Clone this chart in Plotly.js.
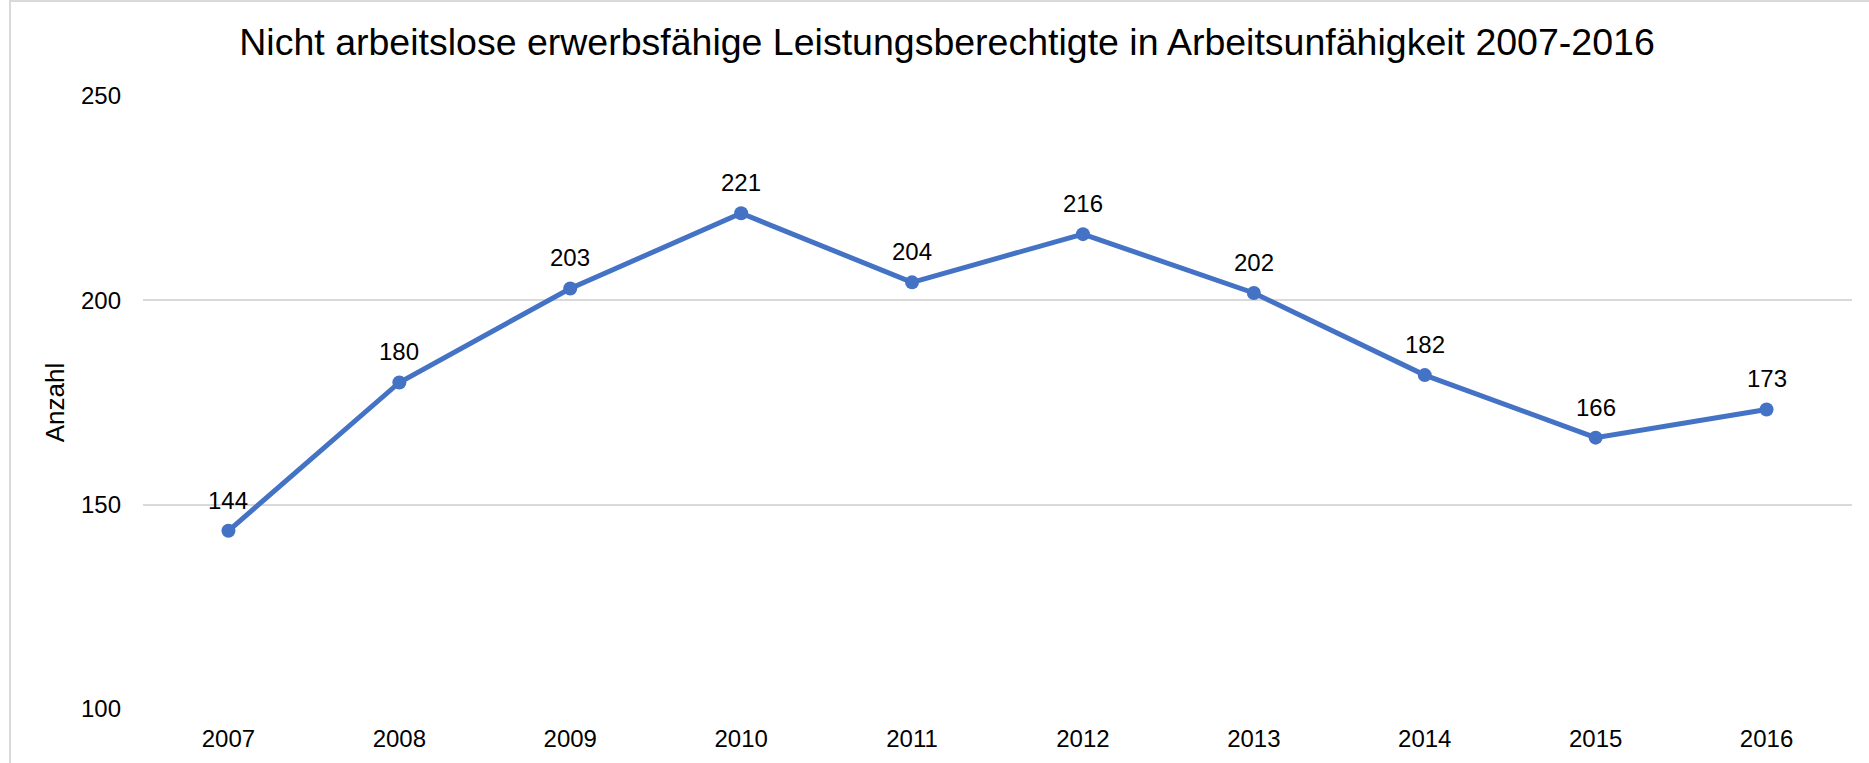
<!DOCTYPE html>
<html>
<head>
<meta charset="utf-8">
<script src="https://cdn.plot.ly/plotly-3.0.1.min.js"></script>
<style>
  html, body { margin: 0; padding: 0; background: #fff; }
  #wrap { position: relative; width: 1869px; height: 763px; overflow: hidden; }
  #chart { position: absolute; left: 0; top: 0; width: 1869px; height: 763px; }
  #frame { position: absolute; left: 9px; top: 0px; width: 1900px; height: 800px;
           border-left: 2px solid #d9d9d9; border-top: 2px solid #d9d9d9; pointer-events: none; }
</style>
</head>
<body>
<div id="wrap">
  <div id="chart"></div>
  <div id="frame"></div>
</div>
<script>
const years = ['2007','2008','2009','2010','2011','2012','2013','2014','2015','2016'];
const values = [143.6, 179.9, 202.9, 221.3, 204.4, 216.2, 201.8, 181.7, 166.4, 173.3];
const labels = ['144','180','203','221','204','216','202','182','166','173'];
const yTicks = [100, 150, 200, 250];

const font = 'Liberation Sans, Arial, sans-serif';

const trace = {
  x: years,
  y: values,
  type: 'scatter',
  mode: 'lines+markers',
  line: { color: '#4472C4', width: 5 },
  marker: { color: '#4472C4', size: 14 },
  cliponaxis: false,
  hoverinfo: 'x+y'
};

// category axis: annotations are positioned by category index
const annotations = years.map((yr, i) => ({
  x: i,
  y: values[i],
  xref: 'x',
  yref: 'y',
  text: labels[i],
  showarrow: false,
  xanchor: 'center',
  yanchor: 'bottom',
  yshift: 15,
  font: { family: font, size: 24, color: '#000' }
}));

const layout = {
  width: 1869,
  height: 763,
  margin: { l: 143, r: 17, t: 96, b: 54 },
  paper_bgcolor: 'rgba(0,0,0,0)',
  plot_bgcolor: '#fff',
  showlegend: false,
  font: { family: font, size: 24, color: '#000' },
  title: {
    text: 'Nicht arbeitslose erwerbsfähige Leistungsberechtigte in Arbeitsunfähigkeit 2007-2016',
    font: { family: font, size: 37.5, color: '#000' },
    x: 0.5067, xanchor: 'center', xref: 'container',
    y: 0.945, yanchor: 'middle', yref: 'container'
  },
  annotations: annotations,
  xaxis: {
    type: 'category',
    categoryorder: 'array',
    categoryarray: years,
    range: [-0.5, 9.5],
    showgrid: false,
    showline: false,
    zeroline: false,
    ticks: '',
    ticklabelstandoff: 13,
    tickfont: { family: font, size: 24, color: '#000' },
    fixedrange: true
  },
  yaxis: {
    range: [100, 250],
    tickvals: yTicks,
    ticktext: yTicks.map(String),
    showgrid: true,
    gridcolor: '#d9d9d9',
    gridwidth: 2,
    zeroline: false,
    showline: false,
    ticks: '',
    ticklabelstandoff: 21,
    tickfont: { family: font, size: 24, color: '#000' },
    title: { text: 'Anzahl', font: { family: font, size: 26, color: '#000' }, standoff: 8 },
    fixedrange: true
  }
};

Plotly.newPlot('chart', [trace], layout, { displayModeBar: false, staticPlot: true });
</script>
</body>
</html>
